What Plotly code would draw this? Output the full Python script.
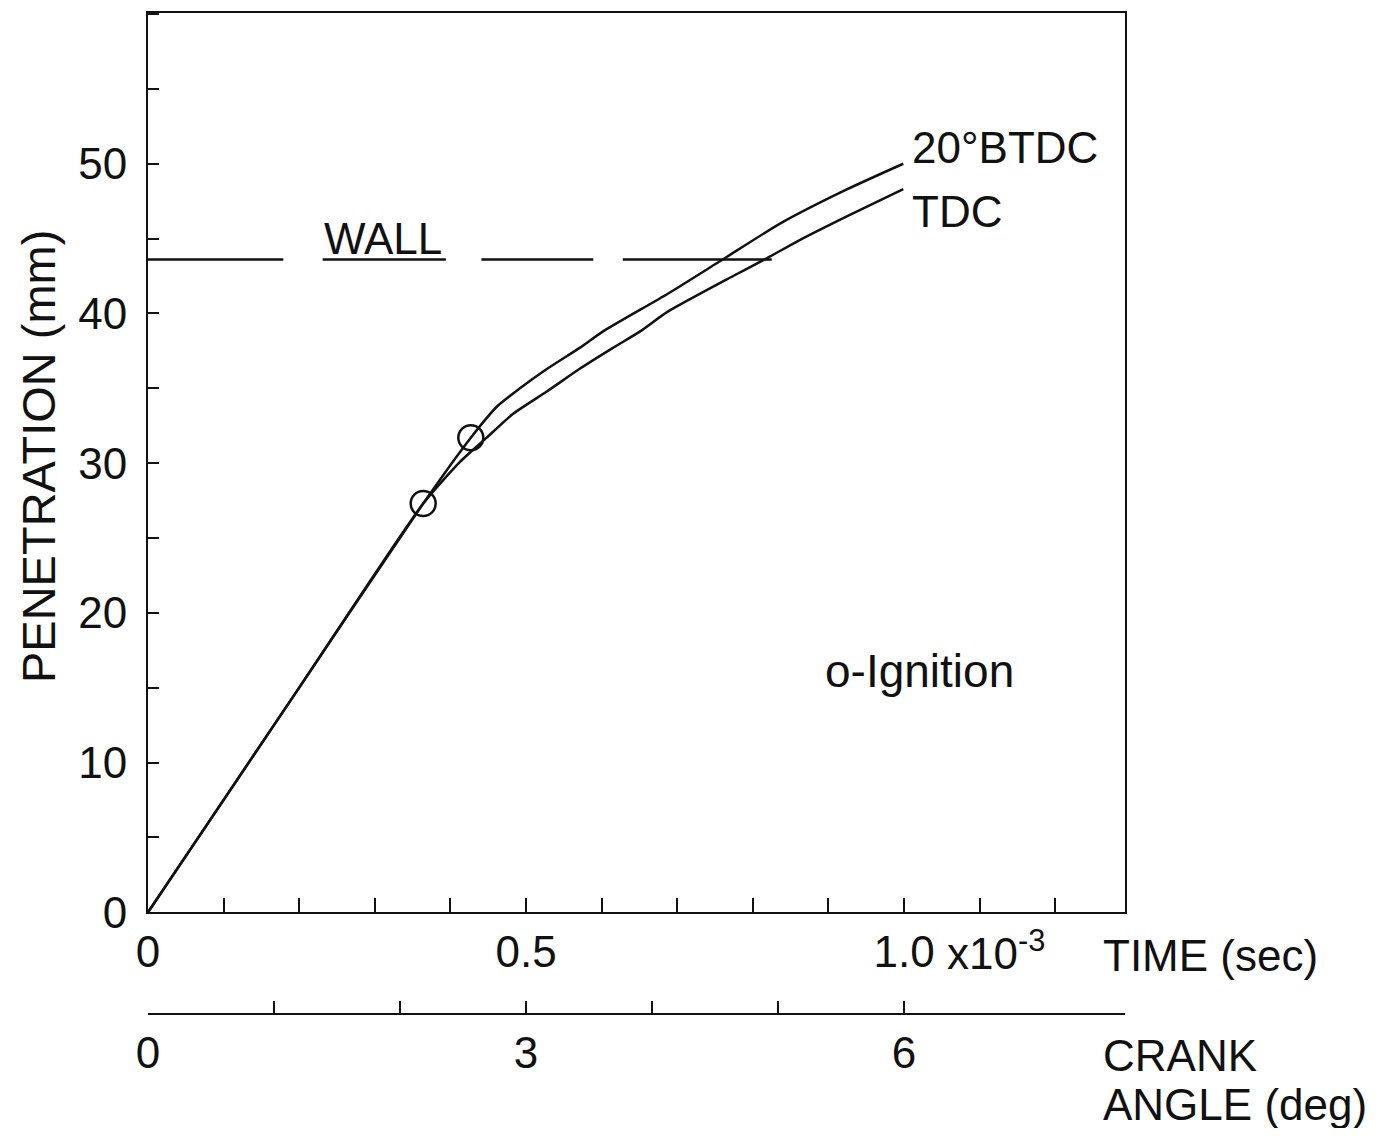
import plotly.graph_objects as go

# ---- data (time in ms, penetration in mm) ----
btdc_t = [0.0, 0.2, 0.364, 0.427, 0.462, 0.492, 0.528, 0.571, 0.602, 0.687, 0.757, 0.836, 0.925, 0.999]
btdc_p = [0.0, 15.0, 27.3, 31.7, 33.8, 35.0, 36.3, 37.7, 38.8, 41.3, 43.5, 46.0, 48.3, 50.0]

tdc_t = [0.0, 0.2, 0.364, 0.413, 0.448, 0.483, 0.528, 0.571, 0.615, 0.651, 0.687, 0.774, 0.819, 0.862, 0.925, 0.999]
tdc_p = [0.0, 15.0, 27.3, 30.1, 31.7, 33.3, 34.8, 36.3, 37.7, 38.8, 40.1, 42.5, 43.7, 44.9, 46.5, 48.3]

ignition_t = [0.364, 0.427]
ignition_p = [27.3, 31.7]

wall_p = 43.6
wall_seg_start = [0.0, 0.231, 0.441, 0.628]
wall_seg_end = [0.179, 0.394, 0.589, 0.825]

ms_to_deg = 6.0
x_max = 1.2923
y_max = 60.07

time_tickvals = [0, 0.5, 1.0]
time_ticktext = ["0", "0.5", "1.0"]
crank_tickvals = [0, 3, 6]
crank_ticktext = ["0", "3", "6"]
crank_minor = [1, 2, 4, 5]
pen_tickvals = [0, 10, 20, 30, 40, 50]

FONT = "Liberation Sans"
BLACK = "#111111"

fig = go.Figure()

# wall dashed line
wx, wy = [], []
for s, e in zip(wall_seg_start, wall_seg_end):
    wx += [s, e, None]
    wy += [wall_p, wall_p, None]
fig.add_trace(go.Scatter(x=wx, y=wy, mode="lines", line=dict(color=BLACK, width=2.5),
                         showlegend=False, hoverinfo="skip"))

fig.add_trace(go.Scatter(x=btdc_t, y=btdc_p, mode="lines", name="20°BTDC",
                         line=dict(color=BLACK, width=2.5, shape="spline", smoothing=0.6),
                         showlegend=False))
fig.add_trace(go.Scatter(x=tdc_t, y=tdc_p, mode="lines", name="TDC",
                         line=dict(color=BLACK, width=2.5, shape="spline", smoothing=0.6),
                         showlegend=False))
fig.add_trace(go.Scatter(x=ignition_t, y=ignition_p, mode="markers", name="Ignition",
                         marker=dict(symbol="circle-open", size=25, color=BLACK,
                                     line=dict(width=2.5, color=BLACK)),
                         showlegend=False))
# invisible trace to carry crank-angle axis
fig.add_trace(go.Scatter(x=[0, x_max * ms_to_deg], y=[None, None], xaxis="x2", yaxis="y",
                         mode="lines", showlegend=False, hoverinfo="skip"))

tickfont = dict(family=FONT, size=44, color=BLACK)

fig.update_layout(
    width=1371, height=1120,
    margin=dict(l=140, r=254, t=3, b=114),
    paper_bgcolor="white", plot_bgcolor="white",
    font=dict(family=FONT, color=BLACK),
    xaxis=dict(range=[0, x_max], showgrid=False, zeroline=False,
               showline=True, linecolor=BLACK, linewidth=2, mirror=True,
               ticks="inside", ticklen=14, tickwidth=2, tickcolor=BLACK,
               tickvals=time_tickvals, ticktext=time_ticktext,
               minor=dict(dtick=0.1, ticks="inside", ticklen=14, tickwidth=2, tickcolor=BLACK),
               tickfont=tickfont, ticklabelstandoff=0,
               anchor="y"),
    yaxis=dict(range=[0, y_max], domain=[0.1017, 1], showgrid=False, zeroline=False,
               showline=True, linecolor=BLACK, linewidth=2, mirror=True,
               ticks="inside", ticklen=11, tickwidth=2, tickcolor=BLACK,
               tickvals=pen_tickvals,
               minor=dict(dtick=5, ticks="inside", ticklen=11, tickwidth=2, tickcolor=BLACK),
               tickfont=tickfont, ticklabelstandoff=10),
    xaxis2=dict(range=[0, x_max * ms_to_deg], overlaying="x", anchor="free", position=0,
                side="bottom", showgrid=False, zeroline=False,
                showline=True, linecolor=BLACK, linewidth=1.5,
                ticks="inside", ticklen=12, tickwidth=2, tickcolor=BLACK,
                tickvals=crank_tickvals, ticktext=crank_ticktext,
                minor=dict(tickmode="array", tickvals=crank_minor, ticks="inside",
                           ticklen=12, tickwidth=2, tickcolor=BLACK),
                tickfont=tickfont, ticklabelstandoff=0),
)


def ann(text, x, y, xref="x", yref="y", xanchor="left", size=44, angle=0):
    return dict(text=text, xref=xref, yref=yref, x=x, y=y, xanchor=xanchor,
                yanchor="middle", textangle=angle, showarrow=False,
                font=dict(family=FONT, size=size, color=BLACK))


annotations = [
    ann("PENETRATION (mm)", -0.112, 0.557, xref="paper", yref="paper",
        xanchor="center", size=47, angle=-90),
    ann("TIME (sec)", 1.2606, 0.0588, yref="paper"),
    ann("x10<sup>-3</sup>", 1.054, 0.0638, yref="paper"),
    ann("CRANK", 1.2606, -0.041, yref="paper"),
    ann("ANGLE (deg)", 1.2606, -0.0907, yref="paper"),
    ann("20°BTDC", 1.008, 51.1),
    ann("TDC", 1.008, 46.8),
    ann("WALL", 0.311, 45.0, xanchor="center"),
    ann("o-Ignition", 1.021, 16.1, xanchor="center", size=46),
]
fig.update_layout(annotations=annotations)

fig.write_html("out.html")
